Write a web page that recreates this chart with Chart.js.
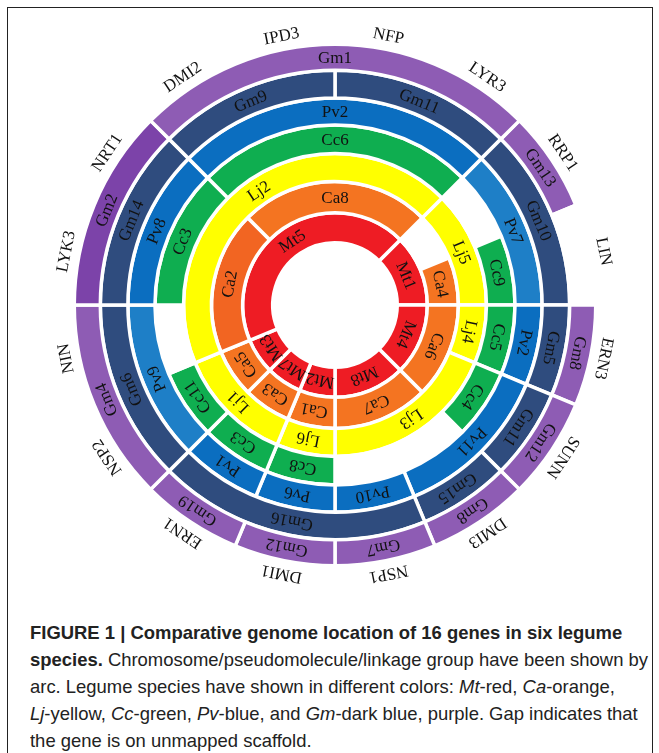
<!DOCTYPE html>
<html>
<head>
<meta charset="utf-8">
<script src="https://cdn.jsdelivr.net/npm/chart.js@4.4.1/dist/chart.umd.min.js"></script>
<style>
  body { margin: 0; background: #fff; }
  #frame { position: absolute; left: 7px; top: 7px; width: 644px; height: 780px; border: 1.5px solid #222; }
  #chart { position: absolute; left: 0; top: 0; }
  #caption { position: absolute; left: 30px; top: 619px; white-space: nowrap; color: #222;
             font: 19px/27px "Liberation Sans", Arial, sans-serif; transform-origin: 0 0; }
  #caption b { font-weight: bold; }
</style>
</head>
<body>
<div id="frame"></div>
<canvas id="chart" width="659" height="600"></canvas>
<div id="caption">
  <span><b>FIGURE 1 | Comparative genome location of 16 genes in six legume</b></span><br>
  <span id="longest"><b>species.</b> Chromosome/pseudomolecule/linkage group have been shown by</span><br>
  <span>arc. Legume species have shown in different colors: <i>Mt</i>-red, <i>Ca</i>-orange,</span><br>
  <span><i>Lj</i>-yellow, <i>Cc</i>-green, <i>Pv</i>-blue, and <i>Gm</i>-dark blue, purple. Gap indicates that</span><br>
  <span>the gene is on unmapped scaffold.</span>
</div>
<script>
// genes, clockwise from 12 o'clock
const genes = ["NFP", "LYR3", "RRP1", "LIN", "ERN3", "SUNN", "DMI3", "NSP1",
               "DMI1", "ERN1", "NSP2", "NIN", "LYK3", "NRT1", "DMI2", "IPD3"];

// chromosome of each gene per species (null = unmapped scaffold)
const gmOuter = ["Gm1", "Gm1", "Gm13", null, "Gm8", "Gm12", "Gm8", "Gm7",
                 "Gm12", "Gm19", "Gm4", "Gm4", "Gm2", "Gm2", "Gm1", "Gm1"];
const gm = ["Gm11", "Gm11", "Gm10", "Gm10", "Gm5", "Gm11", "Gm15", "Gm16",
            "Gm16", "Gm16", "Gm6", "Gm6", "Gm14", "Gm14", "Gm9", "Gm9"];
const pv = ["Pv2", "Pv2", "Pv7", "Pv7", "Pv2", "Pv11", "Pv11", "Pv10",
            "Pv6", "Pv1", "Pv9", "Pv9", "Pv8", "Pv8", "Pv2", "Pv2"];
const cc = ["Cc6", "Cc6", null, "Cc9", "Cc5", "Cc4", null, null,
            "Cc8", "Cc3", "Cc11", null, "Cc3", "Cc3", "Cc6", "Cc6"];
const lj = ["Lj2", "Lj2", "Lj5", "Lj5", "Lj4", "Lj3", "Lj3", "Lj3",
            "Lj6", "Lj1", "Lj1", "Lj2", "Lj2", "Lj2", "Lj2", "Lj2"];
const ca = ["Ca8", "Ca8", null, "Ca4", "Ca6", "Ca6", "Ca7", "Ca7",
            "Ca1", "Ca3", "Ca5", "Ca2", "Ca2", "Ca2", "Ca8", "Ca8"];
const mt = ["Mt5", "Mt5", "Mt1", "Mt1", "Mt4", "Mt4", "Mt8", "Mt8",
            "Mt2", "Mt7", "Mt3", "Mt5", "Mt5", "Mt5", "Mt5", "Mt5"];

// styling, outermost ring first
const rings = [
  { list: gmOuter, color: "#8e5cb4", weight: 26 },
  { list: gm,      color: "#2f4c7e", weight: 27.5 },
  { list: pv,      color: "#0b6ec0", weight: 27 },
  { list: cc,      color: "#0fae50", weight: 28.5 },
  { list: lj,      color: "#ffff00", weight: 28 },
  { list: ca,      color: "#f47421", weight: 31 },
  { list: mt,      color: "#ee1c24", weight: 30 }
];
const shade = { Pv7: "#1e7fc7", Pv9: "#1e7fc7", Gm2: "#7c43a9", Ca2: "#f26522" };

// merge neighbouring genes that sit on the same chromosome into one arc
function runs(list) {
  const n = list.length;
  let s = 0;
  while (s < n && list[s] === list[(s + n - 1) % n]) s++;
  if (s === n) s = 0;
  const sizes = [], names = [];
  for (let k = 0; k < n; k++) {
    const v = list[(s + k) % n];
    if (k > 0 && v === names[names.length - 1]) sizes[sizes.length - 1]++;
    else { names.push(v); sizes.push(1); }
  }
  return { sizes, names, rotation: s * 360 / n };
}

const datasets = rings.map(r => {
  const seg = runs(r.list);
  return {
    data: seg.sizes,
    names: seg.names,
    rotation: seg.rotation,
    weight: r.weight,
    backgroundColor: seg.names.map(nm => nm ? (shade[nm] || r.color) : "rgba(0,0,0,0)"),
    borderColor: "#fff",
    borderWidth: 3.5,
    hoverOffset: 0
  };
});

const serif = '"Liberation Serif", "Times New Roman", serif';

function drawRot(ctx, text, x, y, ang) {
  ctx.save();
  ctx.translate(x, y);
  ctx.rotate(ang);
  ctx.fillText(text, 0, 1);
  ctx.restore();
}

const arcLabels = {
  id: "arcLabels",
  afterDatasetsDraw(chart) {
    const ctx = chart.ctx;
    ctx.save();
    ctx.font = "17px " + serif;
    ctx.fillStyle = "#111";
    ctx.textAlign = "center";
    ctx.textBaseline = "middle";
    chart.data.datasets.forEach((ds, i) => {
      chart.getDatasetMeta(i).data.forEach((arc, j) => {
        const nm = ds.names[j];
        if (!nm) return;
        const p = arc.getProps(["x", "y", "startAngle", "endAngle", "innerRadius", "outerRadius"], true);
        const a = (p.startAngle + p.endAngle) / 2;
        const r = (p.innerRadius + p.outerRadius) / 2;
        drawRot(ctx, nm, p.x + Math.cos(a) * r, p.y + Math.sin(a) * r, a + Math.PI / 2);
      });
    });
    // gene names round the outside
    const c = chart.getDatasetMeta(0).data[0];
    const rg = c.outerRadius + 14;
    genes.forEach((g, k) => {
      const a = -Math.PI / 2 + (k + 0.5) * 2 * Math.PI / genes.length;
      drawRot(ctx, g, c.x + Math.cos(a) * rg, c.y + Math.sin(a) * rg, a + Math.PI / 2);
    });
    ctx.restore();
  }
};

const ctx = document.getElementById("chart").getContext("2d");
const chart = new Chart(ctx, {
  type: "doughnut",
  data: { labels: genes, datasets: datasets },
  options: {
    responsive: false,
    animation: false,
    radius: 260.75,
    cutout: (62.25 / 260.75 * 100) + "%",
    layout: { padding: { left: 76, top: 46, right: 65, bottom: 36 } },
    plugins: { legend: { display: false }, tooltip: { enabled: false } },
    events: []
  },
  plugins: [arcLabels]
});

// the caption face is condensed: squeeze it so the longest line ends where it does
const cap = document.getElementById("caption");
const w = document.getElementById("longest").getBoundingClientRect().width;
cap.style.transform = "scaleX(" + (618 / w) + ")";
</script>
</body>
</html>
